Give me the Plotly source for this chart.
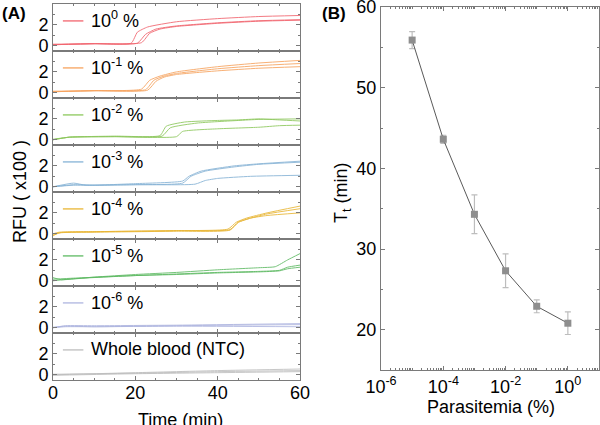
import plotly.graph_objects as go

# ---------------- Panel A data (RFU x100 vs time, three replicates each) ----------------
conditions = ["10<sup>0</sup> %", "10<sup>-1</sup> %", "10<sup>-2</sup> %", "10<sup>-3</sup> %",
              "10<sup>-4</sup> %", "10<sup>-5</sup> %", "10<sup>-6</sup> %", "Whole blood (NTC)"]
colors = ["#F2646E", "#F7A35E", "#8DC85C", "#86B3D6", "#E9B634", "#5DBA62", "#AEB5E0", "#BEBEBE"]

c0_times = [[0, 10, 19, 20.5, 23, 30, 40, 50, 60],
            [0, 10, 20.5, 22.5, 25, 30, 40, 50, 60],
            [0, 10, 21.5, 23.5, 26, 30, 40, 50, 60]]
c0_rfu = [[0.15, 0.2, 0.25, 1.3, 1.8, 2.3, 2.6, 2.8, 2.9],
          [0.1, 0.2, 0.25, 1.1, 1.6, 1.9, 2.2, 2.4, 2.5],
          [0.1, 0.2, 0.3, 1.2, 1.6, 1.85, 2.15, 2.35, 2.45]]

c1_times = [[0, 10, 21.5, 23.5, 26, 30, 40, 50, 60],
            [0, 10, 22.5, 24.5, 27, 30, 40, 50, 60],
            [0, 10, 23, 25, 27, 30, 40, 50, 60]]
c1_rfu = [[0.15, 0.2, 0.35, 1.2, 1.6, 2.0, 2.5, 2.85, 3.1],
          [0.1, 0.2, 0.3, 1.2, 1.6, 1.85, 2.3, 2.6, 2.8],
          [0.1, 0.2, 0.25, 1.1, 1.5, 1.75, 2.1, 2.35, 2.5]]

c2_times = [[0, 4, 15, 26, 27.5, 32, 40, 45, 50, 55, 60],
            [0, 4, 15, 26.5, 28.5, 35, 45, 50, 60],
            [0, 4, 15, 30, 31.5, 40, 50, 55, 60]]
c2_rfu = [[0.0, 0.25, 0.35, 0.4, 1.3, 1.7, 1.85, 1.9, 2.0, 1.9, 1.8],
          [0.05, 0.25, 0.3, 0.35, 1.15, 1.6, 1.85, 1.95, 2.0],
          [0.0, 0.25, 0.3, 0.3, 0.8, 1.05, 1.2, 1.35, 1.4]]

c3_times = [[0, 5, 8, 20, 31.5, 33, 36, 44, 50, 60],
            [0, 5, 10, 20, 31.5, 33.5, 37, 44, 50, 60],
            [0, 5, 10, 20, 34.5, 37, 40, 48, 60]]
c3_rfu = [[0.0, 0.35, 0.15, 0.3, 0.55, 1.0, 1.5, 2.0, 2.2, 2.45],
          [0.0, 0.2, 0.15, 0.2, 0.35, 1.0, 1.5, 1.9, 2.15, 2.35],
          [0.0, 0.15, 0.15, 0.2, 0.25, 0.6, 0.8, 1.0, 1.1]]

c4_times = [[0, 1.5, 10, 30, 42.5, 44.5, 47, 52, 60],
            [0, 1.5, 10, 30, 43, 45, 48, 52, 60],
            [0, 2, 10, 30, 43, 45, 48, 52, 60]]
c4_rfu = [[-0.2, 0.1, 0.2, 0.3, 0.45, 1.1, 1.5, 2.0, 2.65],
          [0.0, 0.15, 0.2, 0.3, 0.4, 1.1, 1.5, 1.9, 2.4],
          [-0.1, 0.1, 0.15, 0.25, 0.35, 1.1, 1.5, 1.75, 2.0]]

c5_times = [[0, 2, 10, 20, 30, 40, 50, 54, 57, 60],
            [0, 5, 20, 30, 40, 50, 55, 57, 60],
            [0, 5, 20, 30, 40, 50, 55, 57, 60]]
c5_rfu = [[0.3, 0.1, 0.35, 0.6, 0.8, 1.05, 1.25, 1.35, 2.0, 2.6],
          [0.0, 0.2, 0.5, 0.65, 0.8, 0.9, 1.0, 1.3, 1.5],
          [0.15, 0.25, 0.5, 0.6, 0.75, 0.85, 0.95, 1.15, 1.3]]

c6_times = [[0, 3, 10, 30, 60],
            [0, 3, 10, 30, 60],
            [0, 3, 10, 30, 60]]
c6_rfu = [[0.0, 0.2, 0.2, 0.25, 0.4],
          [0.05, 0.15, 0.1, 0.2, 0.3],
          [0.0, 0.1, 0.1, 0.15, 0.1]]

c7_times = [[0, 20, 40, 60],
            [0, 20, 40, 60],
            [0, 20, 40, 60]]
c7_rfu = [[0.0, 0.2, 0.4, 0.55],
          [0.05, 0.15, 0.3, 0.4],
          [-0.05, 0.1, 0.2, 0.3]]

all_times = [c0_times, c1_times, c2_times, c3_times, c4_times, c5_times, c6_times, c7_times]
all_rfu = [c0_rfu, c1_rfu, c2_rfu, c3_rfu, c4_rfu, c5_rfu, c6_rfu, c7_rfu]

time_ticks = [0, 20, 40, 60]
rfu_ticks = [0, 2]

# ---------------- Panel B data ----------------
parasitemia = [1e-5, 1e-4, 1e-3, 1e-2, 1e-1, 1e0]
tt = [55.9, 43.6, 34.3, 27.3, 22.9, 20.8]
tt_err = [1.05, 0.5, 2.4, 2.1, 0.8, 1.4]
para_ticks = [1e-6, 1e-4, 1e-2, 1e0]
para_ticktext = ["10<sup>-6</sup>", "10<sup>-4</sup>", "10<sup>-2</sup>", "10<sup>0</sup>"]
tt_ticks = [20, 30, 40, 50, 60]

FONT = "Arial, Liberation Sans, Helvetica, sans-serif"
W, H = 600, 425
axcol = "#7a7a7a"

fig = go.Figure()
layout = dict(width=W, height=H, margin=dict(l=0, r=0, t=0, b=0, autoexpand=False),
              template="none",
              paper_bgcolor="white", plot_bgcolor="white",
              font=dict(family=FONT, size=18, color="black"), showlegend=False)

xa0, xa1 = 53 / W, 300 / W
top_px, bot_px = 4, 380
n = len(conditions)
ph = (bot_px - top_px) / n
shapes, annotations = [], []

for i in range(n):
    k = i + 1
    xname = "xaxis" if k == 1 else f"xaxis{k}"
    yname = "yaxis" if k == 1 else f"yaxis{k}"
    xs = "x" if k == 1 else f"x{k}"
    ys = "y" if k == 1 else f"y{k}"
    ptop = top_px + i * ph
    pbot = ptop + ph
    dom = [1 - pbot / H, 1 - ptop / H]
    last = (i == n - 1)
    layout[xname] = dict(domain=[xa0, xa1], anchor=ys, range=[0, 60], automargin=False,
                         tickvals=time_ticks, showticklabels=last, ticks="inside", ticklen=4,
                         tickcolor=axcol, showline=True, linecolor=axcol, linewidth=1,
                         mirror="ticks", showgrid=False, zeroline=False, ticklabeloverflow="allow",
                         ticklabelstandoff=-4,
                         minor=dict(dtick=5, ticks="inside", ticklen=2, tickcolor=axcol, showgrid=False),
                         tickfont=dict(size=18))
    layout[yname] = dict(domain=dom, anchor=xs, range=[-0.5, 4.0], automargin=False,
                         tickvals=rfu_ticks, ticks="inside", ticklen=4, tickcolor=axcol,
                         showline=True, linecolor=axcol, linewidth=1, mirror="ticks",
                         showgrid=False, zeroline=False, ticklabeloverflow="allow",
                         minor=dict(dtick=1, ticks="inside", ticklen=2, tickcolor=axcol, showgrid=False),
                         tickfont=dict(size=18))
    for t, v in zip(all_times[i], all_rfu[i]):
        fig.add_trace(go.Scatter(x=t, y=v, mode="lines", xaxis=xs, yaxis=ys,
                                 line=dict(color=colors[i], width=1.0, shape="spline", smoothing=0.5),
                                 opacity=0.85, hoverinfo="skip"))
    # legend sample line + label
    shapes.append(dict(type="line", xref=f"{xs} domain", yref=f"{ys} domain",
                       x0=0.04, x1=0.123, y0=0.64, y1=0.64,
                       line=dict(color=colors[i], width=1.3)))
    annotations.append(dict(text=conditions[i], xref=f"{xs} domain", yref=f"{ys} domain",
                            x=0.146, y=0.66, xanchor="left", yanchor="middle",
                            showarrow=False, font=dict(size=18)))

# axis titles panel A
annotations.append(dict(text="RFU ( x100 )", xref="paper", yref="paper", x=20 / W, y=1 - 192 / H,
                        textangle=-90, showarrow=False, font=dict(size=18),
                        xanchor="center", yanchor="middle"))
annotations.append(dict(text="Time (min)", xref="paper", yref="paper", x=180 / W, y=1 - 420 / H,
                        showarrow=False, font=dict(size=18), xanchor="center", yanchor="middle"))

# ---------------- Panel B ----------------
kb = n + 1
layout[f"xaxis{kb}"] = dict(domain=[381 / W, 599 / W], anchor=f"y{kb}", type="log", range=[-6, 1],
                            automargin=False, tickvals=para_ticks, ticktext=para_ticktext,
                            ticks="inside", ticklen=4, ticklabeloverflow="allow",
                            tickcolor=axcol, showline=True, linecolor=axcol, linewidth=1,
                            mirror="ticks", showgrid=False, zeroline=False,
                            minor=dict(dtick="D1", ticks="inside", ticklen=2, tickcolor=axcol, showgrid=False),
                            tickfont=dict(size=18))
layout[f"yaxis{kb}"] = dict(domain=[1 - 370 / H, 1 - 7 / H], anchor=f"x{kb}", range=[15, 60],
                            automargin=False, tickvals=tt_ticks, ticks="inside", ticklen=4, tickcolor=axcol,
                            showline=True, linecolor=axcol, linewidth=1, mirror="ticks",
                            showgrid=False, zeroline=False, ticklabeloverflow="allow",
                            minor=dict(dtick=5, ticks="inside", ticklen=2, tickcolor=axcol, showgrid=False),
                            tickfont=dict(size=18))
annotations.append(dict(text="Parasitemia (%)", xref="paper", yref="paper", x=491 / W, y=1 - 407 / H,
                        showarrow=False, font=dict(size=18), xanchor="center", yanchor="middle"))
annotations.append(dict(text="T<sub>t</sub> (min)", xref="paper", yref="paper", x=342 / W, y=1 - 192 / H,
                        textangle=-90, showarrow=False, font=dict(size=18),
                        xanchor="center", yanchor="middle"))
fig.add_trace(go.Scatter(x=parasitemia, y=tt, mode="lines+markers",
                         xaxis=f"x{kb}", yaxis=f"y{kb}",
                         line=dict(color="#5a5a5a", width=1),
                         marker=dict(symbol="square", size=7, color="#8e8e8e"),
                         error_y=dict(type="data", array=tt_err, color="#bdbdbd",
                                      thickness=1.2, width=3)))

# panel letters
annotations.append(dict(text="<b>(A)</b>", xref="paper", yref="paper", x=0 / W, y=1 - 2 / H,
                        xanchor="left", yanchor="top", showarrow=False, font=dict(size=17)))
annotations.append(dict(text="<b>(B)</b>", xref="paper", yref="paper", x=320 / W, y=1 - 2 / H,
                        xanchor="left", yanchor="top", showarrow=False, font=dict(size=17)))

layout["shapes"] = shapes
layout["annotations"] = annotations
fig.update_layout(**layout)
fig.write_html("out.html", config={"displayModeBar": False},
               post_script="document.body.style.margin='0px';document.body.style.padding='0px';")
